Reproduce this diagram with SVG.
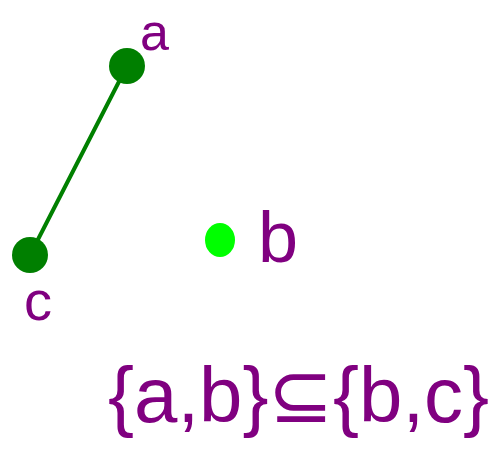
<svg xmlns="http://www.w3.org/2000/svg" width="491" height="472" viewBox="0 0 491 472">
<style>
.lbl{font-family:"Liberation Sans","DejaVu Sans",sans-serif;fill:#800080;}
.cap{font-size:78px;}
.edge{stroke:#008000;stroke-width:4;stroke-linecap:round;}
.dark{fill:#007f00;}
.light{fill:#00ff00;}
</style>
<rect width="491" height="472" fill="#ffffff"/>
<g id="connectors">
<line class="edge" x1="127" y1="66" x2="30" y2="255"/>
</g>
<g id="node-a">
<circle class="dark" cx="127" cy="66" r="18"/>
<text class="lbl" x="140" y="50" font-size="52">a</text>
</g>
<g id="node-b">
<ellipse class="light" cx="220" cy="240" rx="15" ry="17"/>
<text class="lbl" x="258" y="262" font-size="72">b</text>
</g>
<g id="node-c">
<circle class="dark" cx="30" cy="255" r="18"/>
<text class="lbl" x="24" y="320" font-size="56">c</text>
</g>
<g id="caption">
<text class="lbl cap" x="108" y="422">{a,b}</text>
<text class="lbl cap" x="268" y="422">⊆</text>
<text class="lbl cap" x="333" y="422">{b,c}</text>
</g>
</svg>
